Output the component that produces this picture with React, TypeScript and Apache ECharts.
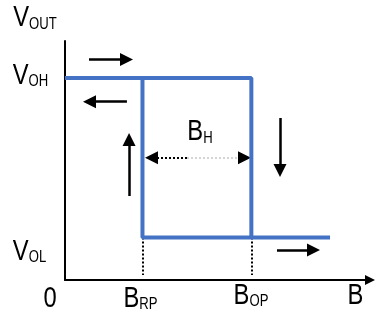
import React, { useEffect, useRef } from "react";
import * as echarts from "echarts";

// Hysteresis levels (data units)
const V_OH = 8.45;
const V_OL = 1.78;
const B_RP = 2.54;
const B_OP = 6.11;
const B_END = 8.69;

// Output curve segments
const upperPath = [
  [0, V_OH],
  [B_OP, V_OH],
  [B_OP, V_OL],
];
const lowerPath = [
  [B_RP, V_OH],
  [B_RP, V_OL],
  [B_END, V_OL],
];

// Direction arrows [start, end]
const flowArrows = [
  [[0.787, 9.23], [2.017, 9.23]],
  [[2.03, 7.46], [0.803, 7.46]],
  [[2.1, 3.515], [2.1, 5.878]],
  [[7.05, 6.78], [7.05, 4.582]],
  [[6.95, 1.255], [8.147, 1.255]],
];

// Guide lines
const dropLines = [
  [[B_RP, V_OL], [B_RP, 0.21]],
  [[B_OP, V_OL], [B_OP, 0.21]],
];
const BH_Y = 5.117;
const bhDark = [[4.0, BH_Y], [2.836, BH_Y]];
const bhLight = [[4.0, BH_Y], [5.8, BH_Y]];
const bhHead = [[5.75, BH_Y], [5.885, BH_Y]];

// Text labels
const labelTexts = ["{m|V}{s|OUT}", "{m|V}{s|OH}", "{m|V}{s|OL}", "{m|0}", "{m|B}{s|RP}", "{m|B}{s|OP}", "{m|B}", "{m|B}{s|H}"];
const labelX = [-0.984, -1.131, -1.164, -0.492, 2.475, 6.098, 9.525, 4.426];
const labelY = [10.96, 8.556, 1.172, -0.8, -0.78, -0.649, -0.649, 6.19];

const FONT = "'Liberation Sans', Arial, sans-serif";
const BLUE = "#4472C4";

export default function App() {
  const ref = useRef<HTMLDivElement>(null);
  useEffect(() => {
    const chart = echarts.init(ref.current!, null, { renderer: "svg" });
    const arrowLine = (data: number[][][], extra: any = {}) => ({
      type: "lines",
      coordinateSystem: "cartesian2d",
      polyline: false,
      symbol: ["none", "triangle"],
      symbolSize: 13,
      silent: true,
      lineStyle: { color: "#000", width: 2.5, opacity: 1 },
      data: data.map((c) => ({ coords: c })),
      ...extra,
    });
    const rich = {
      m: { fontSize: 29, fontFamily: FONT, fill: "#000", verticalAlign: "bottom", lineHeight: 26 },
      s: { fontSize: 16, fontFamily: FONT, fill: "#000", verticalAlign: "bottom", lineHeight: 17 },
    };
    chart.setOption({
      animation: false,
      grid: { left: 65, top: 41, right: 6, bottom: 35 },
      xAxis: {
        type: "value",
        min: 0,
        max: 10,
        axisLine: {
          show: true,
          onZero: false,
          symbol: ["none", "triangle"],
          symbolSize: [10, 10],
          lineStyle: { color: "#000", width: 2 },
        },
        axisTick: { show: false },
        axisLabel: { show: false },
        splitLine: { show: false },
      },
      yAxis: {
        type: "value",
        min: 0,
        max: 10,
        axisLine: { show: true, onZero: false, lineStyle: { color: "#000", width: 2 } },
        axisTick: { show: false },
        axisLabel: { show: false },
        splitLine: { show: false },
      },
      series: [
        {
          type: "line",
          data: upperPath,
          symbol: "none",
          lineStyle: { color: BLUE, width: 4 },
          silent: true,
        },
        {
          type: "line",
          data: lowerPath,
          symbol: "none",
          lineStyle: { color: BLUE, width: 4 },
          silent: true,
        },
        arrowLine(dropLines, {
          symbol: ["none", "none"],
          lineStyle: { color: "#000", width: 2, type: [2, 2], opacity: 1 },
        }),
        arrowLine(flowArrows),
        arrowLine([bhDark], { lineStyle: { color: "#000", width: 2, type: [2, 2], opacity: 1 } }),
        arrowLine([bhLight], {
          symbol: ["none", "none"],
          lineStyle: { color: "#c8c8c8", width: 1.5, type: [2, 2], opacity: 1 },
        }),
        arrowLine([bhHead]),
        {
          type: "custom",
          coordinateSystem: "cartesian2d",
          clip: false,
          silent: true,
          data: labelTexts.map((t, i) => [labelX[i], labelY[i], i]),
          renderItem: (params: any, api: any) => {
            const pt = api.coord([api.value(0), api.value(1)]);
            const idx = api.value(2);
            return {
              type: "text",
              x: pt[0],
              y: pt[1],
              scaleX: 0.82,
              style: {
                text: labelTexts[idx],
                align: "center",
                verticalAlign: "middle",
                fill: "#000",
                rich,
              },
            };
          },
        },
      ],
    });
    return () => chart.dispose();
  }, []);
  return <div ref={ref} style={{ position: "fixed", left: 0, top: 0, width: 376, height: 315 }} />;
}
